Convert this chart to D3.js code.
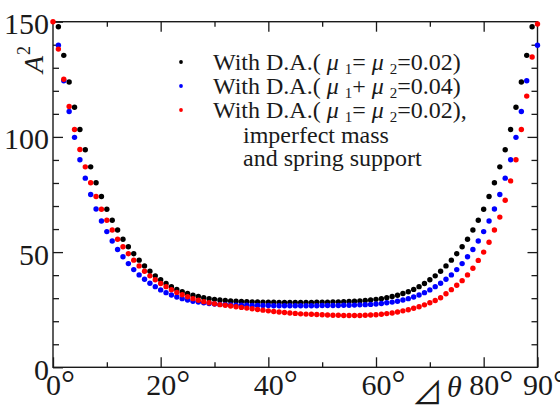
<!DOCTYPE html>
<html>
<head>
<meta charset="utf-8">
<script src="https://cdn.jsdelivr.net/npm/d3@7/dist/d3.min.js"></script>
<style>
  html, body { margin: 0; padding: 0; background: #fff; }
  svg { display: block; }
  text { white-space: pre; }
</style>
</head>
<body>
<svg id="chart" width="560" height="406"></svg>
<script>
// Phase difference Δθ (degrees), one sample per degree
const angles = d3.range(0, 91);

// A² with D.A. (μ1 = μ2 = 0.02)
const seriesEqual = [
  null, 147.8, 135.4, 123.8, 112.9, 103.2, 94.4, 87.0, 80.1, 74.1,
  68.6, 63.8, 59.6, 55.6, 52.3, 49.3, 46.5, 44.0, 41.7, 39.7,
  38.0, 36.4, 35.0, 33.8, 32.8, 32.0, 31.3, 30.7, 30.2, 29.8,
  29.5, 29.2, 29.0, 28.8, 28.7, 28.6, 28.5, 28.4, 28.4, 28.3,
  28.3, 28.3, 28.2, 28.2, 28.2, 28.2, 28.2, 28.2, 28.2, 28.3,
  28.3, 28.3, 28.4, 28.4, 28.5, 28.6, 28.7, 28.8, 29.0, 29.2,
  29.5, 29.8, 30.2, 30.7, 31.3, 32.0, 32.8, 33.8, 35.0, 36.4,
  38.0, 39.7, 41.7, 44.0, 46.5, 49.3, 52.3, 55.6, 59.6, 63.8,
  68.6, 74.1, 80.1, 87.0, 94.4, 103.2, 112.9, 123.8, 135.4, 147.8,
  null
];

// A² with D.A. (μ1 + μ2 = 0.04)
const seriesSum = [
  null, 139.8, 124.4, 111.0, 99.8, 90.1, 82.1, 75.0, 68.7, 63.5,
  58.9, 54.8, 51.1, 48.0, 45.0, 42.4, 40.1, 38.2, 36.5, 35.0,
  33.6, 32.4, 31.4, 30.5, 29.8, 29.2, 28.7, 28.3, 28.0, 27.7,
  27.5, 27.3, 27.2, 27.1, 27.0, 26.9, 26.9, 26.8, 26.8, 26.8,
  26.8, 26.7, 26.7, 26.7, 26.7, 26.7, 26.7, 26.7, 26.7, 26.7,
  26.8, 26.8, 26.8, 26.8, 26.9, 26.9, 27.0, 27.1, 27.2, 27.3,
  27.5, 27.7, 28.0, 28.3, 28.7, 29.2, 29.8, 30.5, 31.4, 32.4,
  33.6, 35.0, 36.5, 38.2, 40.1, 42.4, 45.0, 48.0, 51.1, 54.8,
  58.9, 63.5, 68.7, 75.0, 82.1, 90.1, 99.8, 111.0, 124.4, null,
  139.8
];

// A² with D.A. (μ1 = μ2 = 0.02), imperfect mass and spring support
const seriesImperfect = [
  150.0, 138.1, 125.0, 113.2, 103.2, 94.5, 87.0, 80.1, 74.1, 68.6,
  63.8, 59.6, 55.6, 52.3, 49.3, 46.5, 44.0, 41.7, 39.7, 38.0,
  36.4, 35.0, 33.7, 32.5, 31.5, 30.6, 29.8, 29.1, 28.5, 28.0,
  27.6, 27.2, 26.9, 26.6, 26.3, 26.0, 25.7, 25.4, 25.1, 24.8,
  24.5, 24.2, 24.0, 23.8, 23.6, 23.4, 23.2, 23.1, 23.0, 22.9,
  22.8, 22.7, 22.6, 22.6, 22.5, 22.5, 22.5, 22.5, 22.6, 22.7,
  22.8, 23.0, 23.3, 23.6, 24.0, 24.5, 25.0, 25.6, 26.3, 27.1,
  28.0, 29.0, 30.2, 31.9, 33.7, 35.6, 37.6, 40.1, 43.0, 46.4,
  50.0, 54.3, 59.6, 65.2, 72.5, 80.9, 90.1, 103.2, 117.7, 134.7,
  149.0
];

const seriesNames = ["equal", "sum", "imperfect"];
const seriesColors = ["#000000", "#0000ff", "#ff0000"];

// Axis ticks
const xMajorTicks = [0, 20, 40, 60, 80, 90];
const xMinorTicks = [10, 30, 50, 70];
const yMajorTicks = [0, 50, 100, 150];
const yMinorTicks = [10, 20, 30, 40, 60, 70, 80, 90, 110, 120, 130, 140];

const serif = "'Liberation Serif', 'Times New Roman', serif";
const ink = "#1a1a1a";

const svg = d3.select("#chart");
const x = d3.scaleLinear().domain([0, 90]).range([53, 537.5]);
const y = d3.scaleLinear().domain([0, 150]).range([367.3, 21.7]);

function styleAxis(g) {
  g.select(".domain").remove();
  g.selectAll(".tick line").attr("stroke", ink).attr("stroke-width", 1.3);
  g.selectAll("text").attr("font-family", serif).attr("font-size", 30).attr("fill", ink);
}

// Bottom axis: labels with a trailing degree sign; digits centred on the tick
const gxb = svg.append("g").attr("transform", `translate(0,${y(0)})`)
  .call(d3.axisBottom(x).tickValues(xMajorTicks).tickSizeInner(-10).tickSizeOuter(0)
    .tickPadding(6).tickFormat(d => String(d)))
  .call(styleAxis);
gxb.selectAll(".tick text").each(function () {
  const t = d3.select(this);
  const w = this.getComputedTextLength();
  t.attr("text-anchor", "start").attr("x", -w / 2);
  t.append("tspan").attr("font-size", 35).text("°");
});
svg.append("g").attr("transform", `translate(0,${y(0)})`)
  .call(d3.axisBottom(x).tickValues(xMinorTicks).tickSizeInner(-5).tickSizeOuter(0).tickFormat(""))
  .call(styleAxis);

// Top axis: ticks only
svg.append("g").attr("transform", `translate(0,${y(150)})`)
  .call(d3.axisTop(x).tickValues(xMajorTicks.filter(d => d > 0 && d < 90)).tickSizeInner(-10).tickSizeOuter(0).tickFormat(""))
  .call(styleAxis);
svg.append("g").attr("transform", `translate(0,${y(150)})`)
  .call(d3.axisTop(x).tickValues(xMinorTicks).tickSizeInner(-5).tickSizeOuter(0).tickFormat(""))
  .call(styleAxis);

// Left axis with labels
const gyl = svg.append("g").attr("transform", `translate(${x(0)},0)`)
  .call(d3.axisLeft(y).tickValues(yMajorTicks).tickSizeInner(-10).tickSizeOuter(0).tickPadding(4))
  .call(styleAxis);
gyl.selectAll(".tick text").attr("dy", "0.4em");
svg.append("g").attr("transform", `translate(${x(0)},0)`)
  .call(d3.axisLeft(y).tickValues(yMinorTicks).tickSizeInner(-6).tickSizeOuter(0).tickFormat(""))
  .call(styleAxis);

// Right axis: ticks only
svg.append("g").attr("transform", `translate(${x(90)},0)`)
  .call(d3.axisRight(y).tickValues(yMajorTicks.filter(d => d > 0 && d < 150)).tickSizeInner(-10).tickSizeOuter(0).tickFormat(""))
  .call(styleAxis);
svg.append("g").attr("transform", `translate(${x(90)},0)`)
  .call(d3.axisRight(y).tickValues(yMinorTicks).tickSizeInner(-6).tickSizeOuter(0).tickFormat(""))
  .call(styleAxis);

// Plot frame
svg.append("rect")
  .attr("x", x(0)).attr("y", y(150))
  .attr("width", x(90) - x(0)).attr("height", y(0) - y(150))
  .attr("fill", "none").attr("stroke", ink).attr("stroke-width", 1.4);

// Data points
const allSeries = [seriesEqual, seriesSum, seriesImperfect];
allSeries.forEach((vals, i) => {
  const pts = angles.map((a, k) => ({ a, v: vals[k] })).filter(p => p.v !== null);
  svg.append("g").attr("class", "series-" + seriesNames[i])
    .selectAll("circle").data(pts).join("circle")
    .attr("cx", p => x(p.a)).attr("cy", p => y(p.v))
    .attr("r", 2.7).attr("fill", seriesColors[i]);
});

// Axis titles
const yTitle = svg.append("text")
  .attr("transform", "translate(43,73) rotate(-90)")
  .attr("font-family", serif).attr("fill", ink);
yTitle.append("tspan").attr("font-size", 28).attr("font-style", "italic").text("A");
yTitle.append("tspan").attr("font-size", 18).attr("dy", -13).attr("dx", 1).text("2");

svg.append("text").attr("x", 412).attr("y", 404)
  .attr("font-family", "'Noto Sans CJK JP', 'DejaVu Sans', sans-serif")
  .attr("font-size", 31).attr("fill", ink).text("⊿");
svg.append("text").attr("x", 447).attr("y", 397)
  .attr("font-family", serif).attr("font-style", "italic")
  .attr("font-size", 30).attr("fill", ink).text("θ");

// Legend
const legendX = 213;
const legendRows = [
  { color: seriesColors[0], op: "=", val: "0.02)" },
  { color: seriesColors[1], op: "+", val: "0.04)" },
  { color: seriesColors[2], op: "=", val: "0.02)," }
];
const legendBaselines = [70, 94, 118];
const legendFont = 24;
legendRows.forEach((r, i) => {
  const yb = legendBaselines[i];
  svg.append("circle").attr("cx", 181).attr("cy", yb - 8).attr("r", 1.9).attr("fill", r.color);
  const t = svg.append("text").attr("x", legendX).attr("y", yb)
    .attr("font-family", serif).attr("font-size", legendFont).attr("fill", ink);
  t.append("tspan").text("With D.A.( ");
  t.append("tspan").attr("font-style", "italic").text("μ ");
  t.append("tspan").attr("font-size", 15).attr("dy", 4).text("1");
  t.append("tspan").attr("dy", -4).text(r.op + " ");
  t.append("tspan").attr("font-style", "italic").text("μ ");
  t.append("tspan").attr("font-size", 15).attr("dy", 4).text("2");
  t.append("tspan").attr("dy", -4).text("=" + r.val);
});
svg.append("text").attr("x", 243).attr("y", 143)
  .attr("font-family", serif).attr("font-size", legendFont).attr("fill", ink)
  .text("imperfect mass");
svg.append("text").attr("x", 243).attr("y", 166)
  .attr("font-family", serif).attr("font-size", legendFont).attr("fill", ink)
  .text("and spring support");
</script>
</body>
</html>
